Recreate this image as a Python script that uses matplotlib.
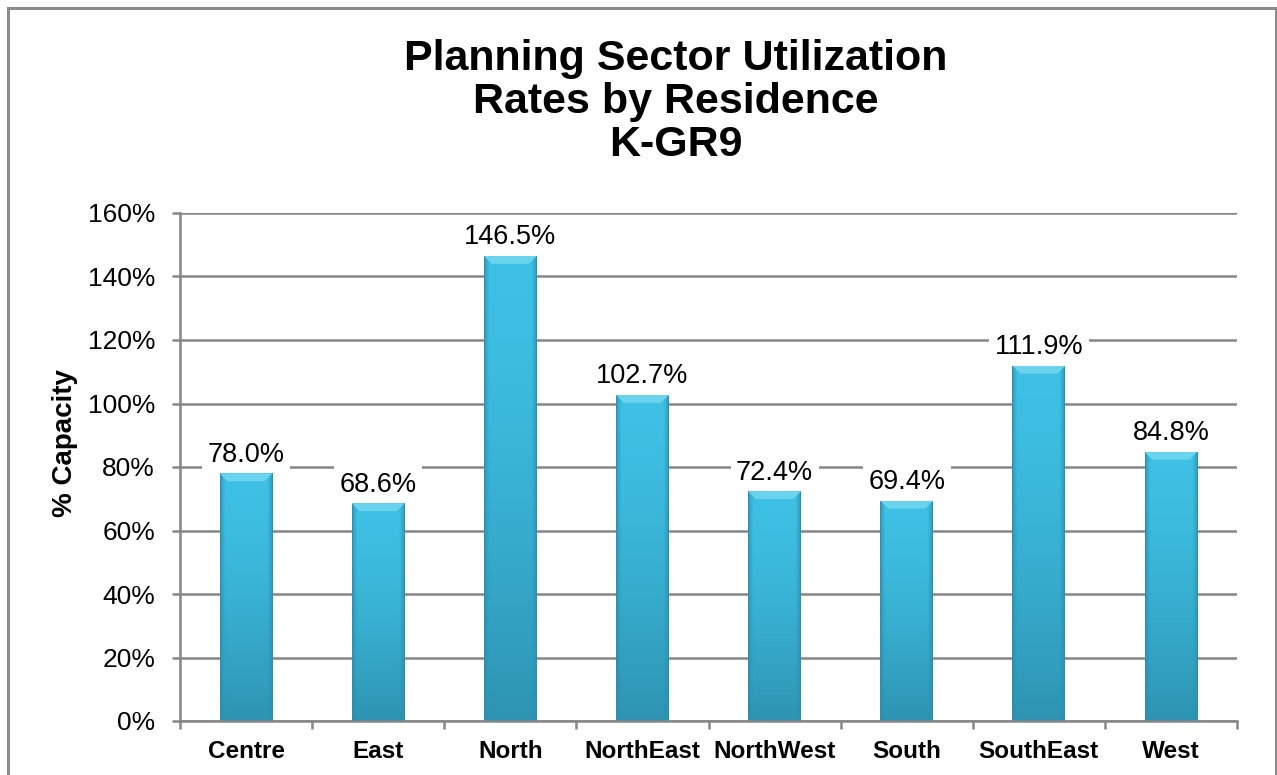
import numpy as np
import matplotlib
matplotlib.use("Agg")
import matplotlib.pyplot as plt
from matplotlib.patches import Polygon
from matplotlib.lines import Line2D
from matplotlib.ticker import FuncFormatter, FixedLocator
from matplotlib.colors import to_rgb

plt.rcParams['font.family'] = ['Liberation Sans', 'DejaVu Sans']

categories = ["Centre", "East", "North", "NorthEast", "NorthWest", "South", "SouthEast", "West"]
values = [78.0, 68.6, 146.5, 102.7, 72.4, 69.4, 111.9, 84.8]
y_ticks = [0, 20, 40, 60, 80, 100, 120, 140, 160]
title_lines = ["Planning Sector Utilization", "Rates by Residence", "K-GR9"]
y_label = "% Capacity"

W, H = 1277, 775
fig = plt.figure(figsize=(W / 100, H / 100), dpi=100)
fig.patch.set_facecolor("white")
ax = fig.add_axes([180 / W, 1 - 721 / H, (1237 - 180) / W, (721 - 213) / H])

grid_c = "#868686"
x = np.arange(len(categories))
bars = ax.bar(x, values, width=0.40, color="#3bbbe0", zorder=3, linewidth=0)

# gradient fill + top bevel for each bar
light = np.array(to_rgb("#3ec1e5"))
dark = np.array(to_rgb("#2c8eae"))
bottom_c = np.array(to_rgb("#2e94b2"))
nx, ny = 60, 100
tx = np.linspace(0, 1, nx)
edge = np.clip(np.minimum(tx, 1 - tx) / 0.10, 0, 1) ** 0.6
ty = np.linspace(0, 1, ny)[:, None]  # 0 top, 1 bottom
for b in bars:
    x0, w, h = b.get_x(), b.get_width(), b.get_height()
    base = light[None, :] * (1 - ty ** 1.5) + bottom_c[None, :] * ty ** 1.5
    img = base[:, None, :] * edge[None, :, None] + dark[None, None, :] * (1 - edge[None, :, None])
    im = ax.imshow(img, extent=(x0, x0 + w, 0, h), aspect="auto", zorder=3.1, interpolation="bilinear")
    im.set_clip_path(b)
    dx = w * 0.15
    dy = 2.5
    ax.add_patch(Polygon([(x0, h), (x0 + w, h), (x0 + w - dx, h - dy), (x0 + dx, h - dy)],
                         closed=True, facecolor="#6ad4ef", edgecolor="none", zorder=3.2))

ax.set_xlim(-0.5, len(categories) - 0.5)
ax.set_ylim(0, 160)
ax.yaxis.set_major_locator(FixedLocator(y_ticks))
ax.yaxis.set_major_formatter(FuncFormatter(lambda v, p: f"{v:.0f}%"))
ax.yaxis.grid(True, color=grid_c, linewidth=1.8, zorder=0)
ax.set_axisbelow(True)

ax.set_xticks(x)
ax.set_xticklabels(categories, fontsize=17.5, fontweight="bold")
ax.set_xticks(np.arange(-0.5, len(categories)), minor=True)
ax.tick_params(axis="x", which="major", length=0, pad=14)
ax.tick_params(axis="x", which="minor", length=6, width=1.8, color=grid_c, direction="out")
ax.tick_params(axis="y", which="major", length=6, width=1.8, color=grid_c, direction="out",
               labelsize=19, pad=12)

for s in ["top", "right"]:
    ax.spines[s].set_visible(False)
for s in ["left", "bottom"]:
    ax.spines[s].set_color(grid_c)
    ax.spines[s].set_linewidth(1.8)
    ax.spines[s].set_zorder(4)

for xi, v in zip(x, values):
    ax.annotate(f"{v:.1f}%", (xi, v), xytext=(0, 4), textcoords="offset points",
                ha="center", va="bottom", fontsize=19.5, zorder=5,
                bbox=dict(boxstyle="square,pad=0.2", facecolor="white", edgecolor="none"))

fig.text(676 / W, 1 - 102 / H, "\n".join(title_lines), ha="center", va="center",
         fontsize=31, fontweight="bold", linespacing=1.1)
fig.text(65 / W, 1 - 443 / H, y_label, rotation=90, ha="center", va="center",
         fontsize=20, fontweight="bold")

# outer border
bc = "#8c8c8c"
xl, xr, yt = 7.5 / W, 1275.5 / W, 1 - 7.5 / H
fig.add_artist(Line2D([xl, xl, xr, xr], [0, yt, yt, 0], transform=fig.transFigure,
                      color=bc, linewidth=2.2, solid_joinstyle="miter"))

fig.savefig("out.png", dpi=100, facecolor="white")
